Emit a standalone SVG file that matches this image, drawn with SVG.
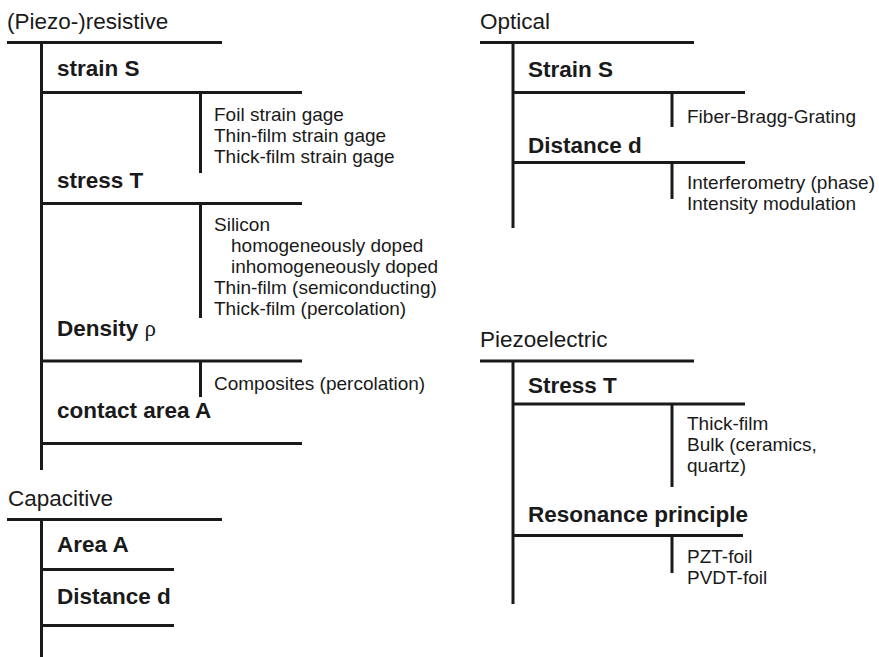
<svg xmlns="http://www.w3.org/2000/svg" width="879" height="657" viewBox="0 0 879 657">
<style>
.ln{stroke:#1a1a1a;stroke-width:3;fill:none;stroke-linecap:butt}
text{font-family:"Liberation Sans",Arial,Helvetica,sans-serif;fill:#1a1a1a}
.ti{font-size:22.5px}
.b{font-size:22.5px;font-weight:bold}
.s{font-size:19px}
.rho{font-family:"Liberation Serif","Times New Roman",serif;font-weight:normal;font-size:23px}
</style>
<rect width="879" height="657" fill="#ffffff"/>
<g id="connectors">
  <!-- Piezo-resistive -->
  <path class="ln" d="M7 42.5H222M41.5 42V470M41 92.5H302M200.5 92V173M41 203.5H302M200.5 203V318M41 361H302M200.5 361V397M41 443.5H302"/>
  <!-- Capacitive -->
  <path class="ln" d="M7 519.5H222M41.5 519V657M41 569.5H174M41 625.5H174"/>
  <!-- Optical -->
  <path class="ln" d="M480 42.5H694M513 42V228M513 92.5H745M672 92V127M513 162.5H745M672 162V199"/>
  <!-- Piezoelectric -->
  <path class="ln" d="M480 361H694M513 361V604M513 404H745M672 404V487M513 535.5H743M672 535V573"/>
</g>
<g id="piezoresistive">
  <text class="ti" x="7" y="29">(Piezo-)resistive</text>
</g>
<g id="pr-strain"><text class="b" x="57" y="76">strain S</text></g>
<g id="pr-stress">
  <text class="b" x="57" y="188">stress T</text>
  <text class="s" x="214" y="121">Foil strain gage</text>
  <text class="s" x="214" y="142">Thin-film strain gage</text>
  <text class="s" x="214" y="163">Thick-film strain gage</text>
</g>
<g id="pr-density">
  <text class="s" x="214" y="231">Silicon</text>
  <text class="s" x="231" y="252">homogeneously doped</text>
  <text class="s" x="231" y="273">inhomogeneously doped</text>
  <text class="s" x="214" y="294">Thin-film (semiconducting)</text>
  <text class="s" x="214" y="315">Thick-film (percolation)</text>
  <text class="b" x="57" y="336">Density <tspan class="rho">ρ</tspan></text>
</g>
<g id="pr-contact">
  <text class="s" x="214" y="390">Composites (percolation)</text>
  <text class="b" x="57" y="418">contact area A</text>
</g>
<g id="capacitive"><text class="ti" x="8" y="506">Capacitive</text></g>
<g id="cap-area"><text class="b" x="57" y="552">Area A</text></g>
<g id="cap-distance"><text class="b" x="57" y="604">Distance d</text></g>
<g id="optical"><text class="ti" x="480" y="29">Optical</text></g>
<g id="opt-strain">
  <text class="b" x="528" y="77">Strain S</text>
  <text class="s" x="687" y="123">Fiber-Bragg-Grating</text>
</g>
<g id="opt-distance">
  <text class="b" x="528" y="153">Distance d</text>
  <text class="s" x="687" y="189">Interferometry (phase)</text>
  <text class="s" x="687" y="210">Intensity modulation</text>
</g>
<g id="piezoelectric"><text class="ti" x="480" y="347">Piezoelectric</text></g>
<g id="pe-stress">
  <text class="b" x="528" y="393">Stress T</text>
  <text class="s" x="687" y="430">Thick-film</text>
  <text class="s" x="687" y="451">Bulk (ceramics,</text>
  <text class="s" x="687" y="472">quartz)</text>
</g>
<g id="pe-resonance">
  <text class="b" x="528" y="522">Resonance principle</text>
  <text class="s" x="687" y="563">PZT-foil</text>
  <text class="s" x="687" y="584">PVDT-foil</text>
</g>
</svg>
